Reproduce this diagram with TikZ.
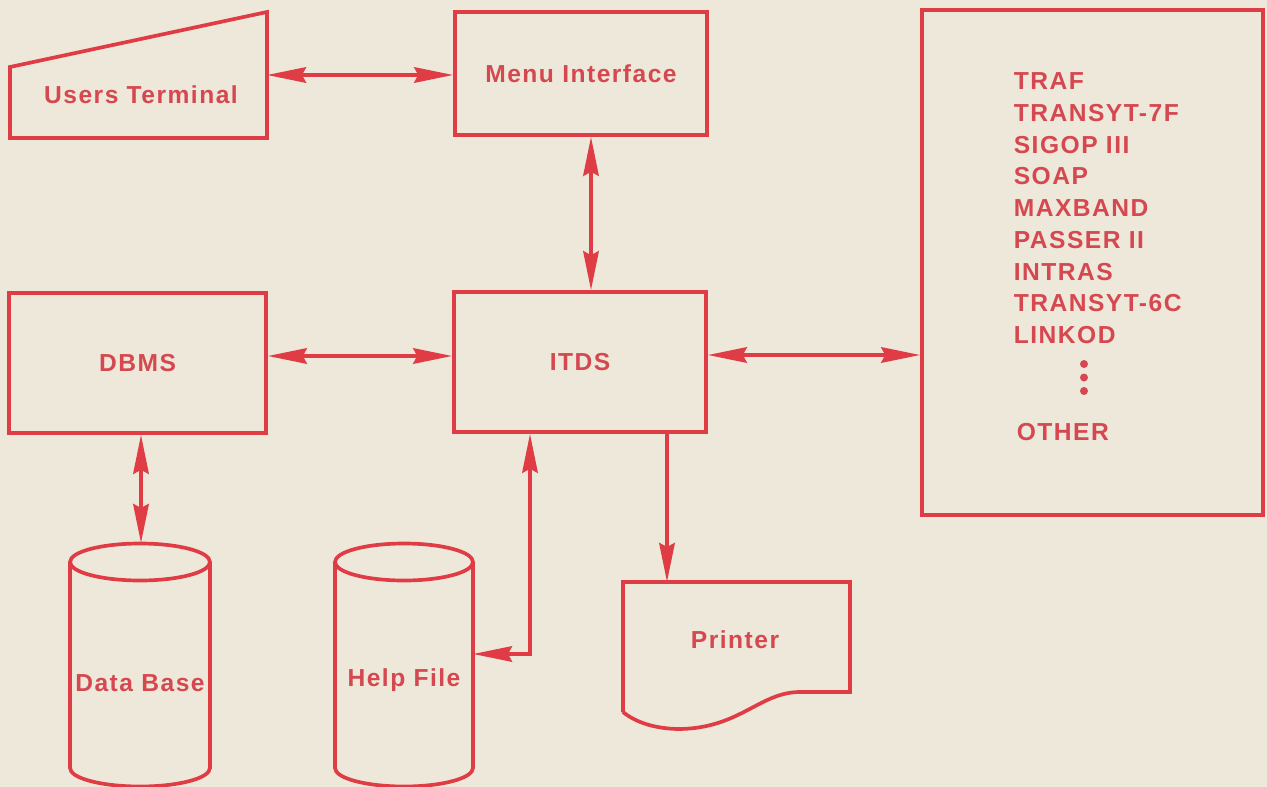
\documentclass[tikz,border=0pt]{standalone}
\usepackage{fontspec}
\usepackage{xcolor}
\usetikzlibrary{arrows.meta,positioning,calc}
\newfontfamily\lab[LetterSpace=6]{Liberation Sans}
\definecolor{inkred}{HTML}{E03C46}
\definecolor{txtred}{HTML}{D64850}
\definecolor{paper}{HTML}{EEE8DA}

\begin{document}
\begin{tikzpicture}[
    x=0.02cm, y=-0.02cm,
    color=inkred, line width=2.1pt,
    lbl/.style={text=txtred, inner sep=0pt, font=\lab\bfseries\fontsize{14}{18}\selectfont},
    box/.style={rectangle, draw, lbl, minimum width=5.04cm, minimum height=2.8cm},
    arr/.style={{Stealth[length=0.78cm, width=0.31cm, inset=0.08cm]}-{Stealth[length=0.78cm, width=0.31cm, inset=0.08cm]}},
    toarr/.style={-{Stealth[length=0.78cm, width=0.31cm, inset=0.08cm]}}
]
\fill[paper] (0,0) rectangle (1267,787);
\useasboundingbox (0,0) rectangle (1267,787);

\node[box, minimum height=2.46cm] (menu) at (581,73.5) {Menu Interface};
\node[box] (itds) at (580,362) {ITDS};
\node[box, minimum width=5.14cm] (dbms) at (137.5,363) {DBMS};
\node[rectangle, draw, minimum width=6.82cm, minimum height=10.1cm] (progs) at (1092.5,262.5) {};

% users terminal
\draw (10,138) -- (10,67) -- (267,12) -- (267,138) -- cycle;
\node[lbl] (term) at (141,95) {Users Terminal};
\coordinate (termR) at (267,75);

% storage
\draw (140,562) ellipse [x radius=1.4cm, y radius=0.37cm];
\draw (70,562) -- (70,768) arc[start angle=180, end angle=360, x radius=1.4cm, y radius=0.37cm] -- (210,562);
\node[lbl] (db) at (140,683) {Data Base};
\coordinate (dbTop) at (141,543);

\draw (404,562) ellipse [x radius=1.38cm, y radius=0.37cm];
\draw (335,562) -- (335,768) arc[start angle=180, end angle=360, x radius=1.38cm, y radius=0.37cm] -- (473,562);
\node[lbl] (help) at (404,680) {Help File};
\coordinate (hfR) at (473,654);
\coordinate (hfBend) at (530,654);

% printer
\draw (623,712) -- (623,582) -- (850,582) -- (850,692) -- (800,692)
    .. controls (760,692) and (740,728) .. (680,729)
    .. controls (655,729) and (635,722) .. (623,712);
\node[lbl] (prn) at (735,640) {Printer};
\coordinate (prnTop) at (667,582);

% programs
\foreach \name [count=\i] in {TRAF,TRANSYT-7F,SIGOP III,SOAP,MAXBAND,PASSER II,INTRAS,TRANSYT-6C,LINKOD}
    \node[lbl, anchor=base west] (prog\i) at (1012,58.1+31.7*\i) {\name};
\foreach \y in {364,377.5,391}
    \fill[txtred] (1084,\y) circle (0.08cm);
\node[lbl, anchor=base west] (other) at (1015,440) {OTHER};

\draw[arr] (termR) -- (termR -| menu.west);
\draw[arr] ([xshift=0.2cm]menu.south) -- ([xshift=0.2cm]menu.south |- itds.north);
\draw[arr] ([yshift=0.14cm]dbms.east) -- ([yshift=0.14cm]dbms.east -| itds.west);
\draw[arr] ([yshift=0.14cm]itds.east) -- ([yshift=0.14cm]itds.east -| progs.west);
\draw[arr] (dbTop |- dbms.south) -- (dbTop);
\draw[arr] (hfR) -- (hfBend) -- (hfBend |- itds.south);
\draw[toarr] (prnTop |- itds.south) -- (prnTop);
\end{tikzpicture}
\end{document}
